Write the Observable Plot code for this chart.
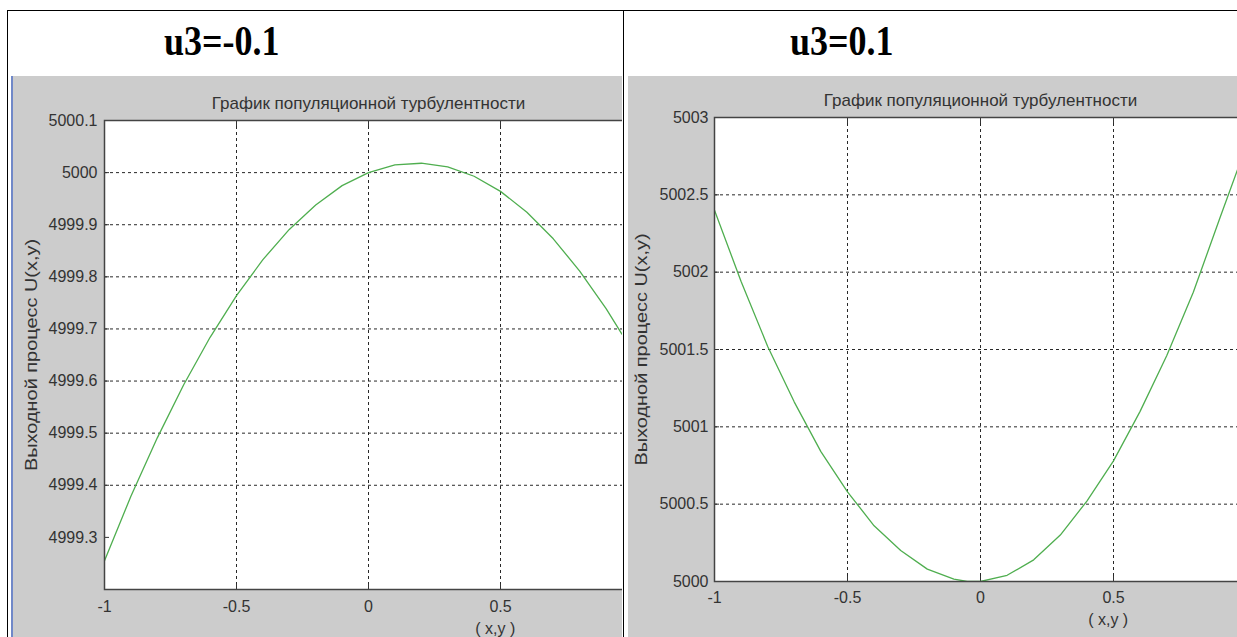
<!DOCTYPE html>
<html><head><meta charset="utf-8">
<script src="https://cdn.jsdelivr.net/npm/d3@7"></script>
<script src="https://cdn.jsdelivr.net/npm/@observablehq/plot@0.6"></script>
<style>
html,body{margin:0;padding:0;background:#fff;}
#page{position:relative;width:1237px;height:637px;overflow:hidden;background:#fff;}
.ln{position:absolute;background:#000;}
.hdr{position:absolute;font-family:"Liberation Serif","Times New Roman",serif;font-weight:bold;font-size:36px;line-height:1;transform:scaleY(1.2);transform-origin:left top;color:#000;white-space:nowrap;}
.cell{position:absolute;background:#cccccc;overflow:hidden;}
.cell svg{display:block;max-width:none;}
</style></head><body>
<div id="page">
  <div class="ln" style="left:7px;top:10px;width:1230px;height:1px;"></div>
  <div class="ln" style="left:7px;top:10px;width:1px;height:627px;"></div>
  <div class="ln" style="left:623px;top:10px;width:1px;height:627px;"></div>
  <div class="hdr" id="h1" style="left:164px;top:19px;"></div>
  <div class="hdr" id="h2" style="left:790px;top:19px;"></div>
  <div class="cell" id="left" style="left:11px;top:76px;width:611px;height:561px;border-left:2px solid #7088c8;box-sizing:border-box;"></div>
  <div class="cell" id="right" style="left:628px;top:76px;width:609px;height:561px;"></div>
</div>
<script>
const headers = ["u3=-0.1", "u3=0.1"];
const plotTitle = "График популяционной турбулентности";
const yLabel = "Выходной процесс U(x,y)";
const xLabel = "( x,y )";
const xTicks = [-1, -0.5, 0, 0.5];
const leftYTicks = [4999.3, 4999.4, 4999.5, 4999.6, 4999.7, 4999.8, 4999.9, 5000, 5000.1];
const rightYTicks = [5000, 5000.5, 5001, 5001.5, 5002, 5002.5, 5003];
const leftX = [-1, -0.9, -0.8, -0.7, -0.6, -0.5, -0.4, -0.3, -0.2, -0.1, 0, 0.1, 0.2, 0.3, 0.4, 0.5, 0.6, 0.7, 0.8, 0.9, 0.96];
const leftU = [4999.255, 4999.379, 4999.491, 4999.593, 4999.684, 4999.764, 4999.833, 4999.891, 4999.938, 4999.975, 5000.000, 5000.015, 5000.018, 5000.011, 4999.993, 4999.964, 4999.924, 4999.873, 4999.811, 4999.739, 4999.690];
const rightX = [-1, -0.9, -0.8, -0.7, -0.6, -0.5, -0.4, -0.3, -0.2, -0.1, -0.05, 0, 0.1, 0.2, 0.3, 0.4, 0.5, 0.6, 0.7, 0.8, 0.9, 0.97];
const rightU = [5002.40, 5001.94, 5001.52, 5001.16, 5000.84, 5000.58, 5000.36, 5000.20, 5000.08, 5000.016, 5000.0, 5000.0, 5000.04, 5000.14, 5000.30, 5000.52, 5000.78, 5001.10, 5001.46, 5001.87, 5002.35, 5002.68];

document.getElementById("h1").textContent = headers[0];
document.getElementById("h2").textContent = headers[1];

const fmt = d => String(+(+d).toFixed(1));
const font = "'Liberation Sans', Arial, sans-serif";

function makePlot(cfg) {
  const data = cfg.xs.map((x, i) => ({x, u: cfg.us[i]}));
  const innerYTicks = cfg.yTicks.slice(1, -1);
  const innerXTicks = [-0.5, 0, 0.5];
  const svg = Plot.plot({
    width: cfg.width, height: 561,
    marginLeft: cfg.ml, marginTop: cfg.mt, marginBottom: cfg.mb, marginRight: cfg.mr,
    style: {background: "transparent", fontFamily: font, fontSize: "16px", color: "#333"},
    x: {domain: [-1, 1]},
    y: {domain: cfg.yDomain},
    marks: [
      Plot.frame({fill: "white", stroke: null}),
      Plot.gridY(innerYTicks, {stroke: "#111", strokeOpacity: 0.9, strokeDasharray: "3,3"}),
      Plot.gridX(innerXTicks, {stroke: "#111", strokeOpacity: 0.9, strokeDasharray: "3,3"}),
      Plot.axisX({ticks: xTicks, tickSize: 5, dy: -5, tickFormat: () => "", label: null, stroke: "#333"}),
      Plot.axisX({anchor: "top", ticks: xTicks, tickSize: 5, dy: 5, tickFormat: () => "", label: null, stroke: "#333"}),
      Plot.axisY({ticks: cfg.yTicks, tickSize: 5, dx: 5, tickFormat: () => "", label: null, stroke: "#333"}),
      Plot.axisX({ticks: xTicks, tickSize: 0, tickPadding: cfg.xPad, tickFormat: fmt, label: null, fill: "#333", fontSize: 16}),
      Plot.axisY({ticks: cfg.yTicks, tickSize: 0, tickPadding: cfg.yPad, tickFormat: fmt, label: null, fill: "#333", fontSize: 16}),
      Plot.line(data, {x: "x", y: "u", stroke: "#4fae4f", strokeWidth: 1.3, clip: true}),
      Plot.frame({stroke: "#444", strokeWidth: 1.5}),
      Plot.text([{x: 0, t: plotTitle}], {x: "x", text: "t", frameAnchor: "top", dy: -24, fontSize: 17, fill: "#333"}),
      Plot.text([{t: yLabel}], {text: "t", frameAnchor: "left", textAnchor: "middle", rotate: -90, dx: -73, fontSize: 17, fill: "#333"}),
      Plot.text([{x: 0.48, t: xLabel}], {x: "x", text: "t", frameAnchor: "bottom", dy: cfg.xlDy, fontSize: 16, fill: "#333"})
    ]
  });
  d3.select(svg).selectAll("text").filter(function() { return this.textContent === yLabel; })
    .attr("textLength", 232).attr("lengthAdjust", "spacingAndGlyphs");
  return svg;
}

document.getElementById("left").appendChild(makePlot({
  xs: leftX, us: leftU, yTicks: leftYTicks, yDomain: [4999.2, 5000.1],
  width: 640, ml: 91, mr: 21, mt: 44, mb: 48, xPad: 11, yPad: 7, xlDy: 44
}));
document.getElementById("right").appendChild(makePlot({
  xs: rightX, us: rightU, yTicks: rightYTicks, yDomain: [5000, 5003],
  width: 640, ml: 86, mr: 22, mt: 41, mb: 56, xPad: 10, yPad: 6, xlDy: 43
}));
</script>
</body></html>
